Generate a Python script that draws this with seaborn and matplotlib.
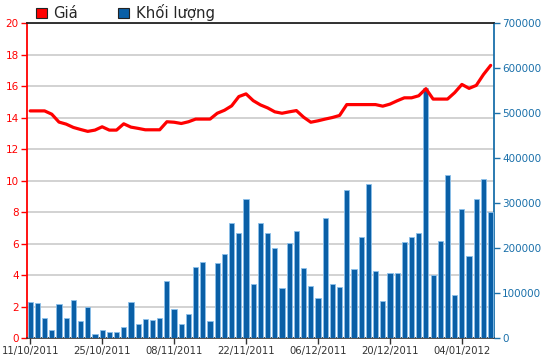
import pandas as pd
import matplotlib
matplotlib.use('Agg')
import matplotlib.pyplot as plt
from matplotlib.patches import Patch
import numpy as np
import seaborn as sns

sns.set_style('white')
plt.rcParams['font.family'] = ['DejaVu Sans']

#------------data
price = [14.42, 14.42, 14.42, 14.21, 13.71, 13.58, 13.37, 13.24, 13.12, 13.20,
         13.41, 13.20, 13.20, 13.60, 13.39, 13.31, 13.22, 13.22, 13.22, 13.73,
         13.70, 13.62, 13.73, 13.90, 13.90, 13.90, 14.27, 14.46, 14.74, 15.33,
         15.50, 15.07, 14.80, 14.61, 14.36, 14.27, 14.36, 14.44, 14.02, 13.70,
         13.79, 13.90, 14.00, 14.13, 14.82, 14.82, 14.82, 14.82, 14.82, 14.72,
         14.85, 15.06, 15.25, 15.25, 15.38, 15.83, 15.17, 15.17, 15.17, 15.58,
         16.10, 15.85, 16.04, 16.73, 17.31]

volume = [79000, 77000, 45000, 17000, 76000, 45000, 84000, 37000, 70000, 9000,
          17000, 14000, 14000, 25000, 79000, 31000, 43000, 40000, 45000, 127000,
          65000, 31000, 54000, 157000, 169000, 37000, 166000, 186000, 255000, 233000,
          309000, 121000, 255000, 233000, 200000, 112000, 211000, 238000, 155000, 116000,
          90000, 267000, 121000, 113000, 328000, 154000, 225000, 343000, 149000, 82000,
          144000, 144000, 214000, 225000, 233000, 555000, 141000, 216000, 363000, 96000,
          287000, 183000, 310000, 354000, 279000]

# trading sessions (new year holiday 02/01/2012 closed)
dates = pd.bdate_range('2011-10-11', periods=len(price), freq='C', holidays=['2012-01-02'])

df = pd.DataFrame({'session': np.arange(len(price)), 'date': dates,
                   'price': price, 'volume': volume})

red = '#ff0000'
blue = '#0a5fa6'
axis_blue = '#1a70aa'

fig = plt.figure(figsize=(5.5, 3.64), dpi=100)
ax = fig.add_axes([0.049, 0.0714, 0.849, 0.8654])
ax2 = ax.twinx()
ax3 = ax.twinx()

#------------volume bars (right axis)
sns.barplot(data=df, x='session', y='volume', ax=ax2, color=blue, width=0.72,
            saturation=1, edgecolor='#8cc0ea', linewidth=0.6)
ax2.set_ylim(0, 700000)
ax2.set_yticks(np.arange(0, 700001, 100000))
ax2.tick_params(axis='y', colors=axis_blue, labelsize=7.5, length=4, width=1, pad=2)
ax2.set_ylabel('')
ax2.set_xlabel('')

#------------price line (left scale, drawn on top)
sns.lineplot(data=df, x='session', y='price', ax=ax3, color=red, linewidth=2.3)
ax3.set_ylim(0, 20)
ax3.set_yticks([])
ax3.set_ylabel('')
ax3.set_xlabel('')

#------------left axis + grid
ax.set_ylim(0, 20)
ax.set_yticks(np.arange(0, 21, 2))
ax.yaxis.grid(True, color='#cfcfcf', linewidth=1.3)
ax.set_axisbelow(True)
ax.tick_params(axis='y', colors=red, labelsize=7.5, length=4, width=1, pad=2, left=True)

for a in (ax2, ax3):
    for s in a.spines.values():
        s.set_visible(False)
ax.spines['left'].set_color(red)
ax.spines['left'].set_linewidth(1.3)
ax.spines['top'].set_color('#222222')
ax.spines['top'].set_linewidth(1.3)
ax.spines['bottom'].set_color('#333333')
ax.spines['bottom'].set_linewidth(1.2)
ax.spines['right'].set_color(axis_blue)
ax.spines['right'].set_linewidth(1.3)
ax.spines['right'].set_visible(True)

# date ticks every 10 sessions, set last since the x axis is shared
tick_pos = df['session'][::10].tolist()
tick_lab = df['date'][::10].dt.strftime('%d/%m/%Y').tolist()
ax.set_xlim(-0.45, len(price) - 0.55)
ax.set_xticks(tick_pos)
ax.set_xticklabels(tick_lab)
ax.set_xlabel('')
ax.tick_params(axis='x', colors='#333333', labelsize=7.2, length=4, width=1, pad=2, bottom=True)

#------------legend above the plot
handles = [Patch(facecolor=red, edgecolor='#222222', linewidth=0.8, label='Giá'),
           Patch(facecolor=blue, edgecolor='#222222', linewidth=0.8, label='Khối lượng')]
fig.legend(handles=handles, loc='upper left', bbox_to_anchor=(0.041, 1.025), ncol=2,
           frameon=False, fontsize=10.7, handlelength=0.72, handleheight=0.72,
           handletextpad=0.45, columnspacing=2.7)

fig.savefig('out.png', dpi=100)
